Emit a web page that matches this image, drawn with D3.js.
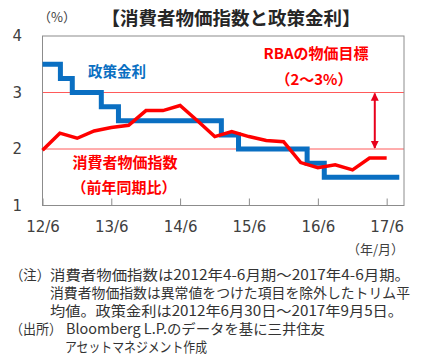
<!DOCTYPE html>
<meta charset="utf-8">
<head>
<style>
body { margin: 0; background: #fff; }
text { font-family: "Noto Sans CJK JP", "DejaVu Sans", sans-serif; }
.num { font-family: "DejaVu Sans", sans-serif; }
</style>
</head>
<body>
<script src="https://cdnjs.cloudflare.com/ajax/libs/d3/7.8.5/d3.min.js"></script>
<script>
// ---------------- data ----------------
var cpiDates = ["2012-06-30","2012-09-30","2012-12-31","2013-03-31","2013-06-30","2013-09-30","2013-12-31",
  "2014-03-31","2014-06-30","2014-09-30","2014-12-31","2015-03-31","2015-06-30","2015-09-30","2015-12-31",
  "2016-03-31","2016-06-30","2016-09-30","2016-12-31","2017-03-31","2017-06-30"];
var cpiValues = [1.98,2.28,2.19,2.32,2.38,2.42,2.68,2.68,2.77,2.50,2.22,2.31,2.22,2.15,2.13,1.76,1.67,1.72,1.63,1.84,1.84];

var rateDates = ["2012-06-30","2012-10-03","2012-12-05","2013-05-08","2013-08-07","2015-02-04","2015-05-06","2016-05-04","2016-08-03","2017-09-05"];
var rateValues = [3.5,3.25,3.0,2.75,2.5,2.25,2.0,1.75,1.5,1.5];

var xTickDates = ["2012-06-30","2013-06-30","2014-06-30","2015-06-30","2016-06-30","2017-06-30"];
var xTickLabels = ["12/6","13/6","14/6","15/6","16/6","17/6"];
var yTicks = [1,2,3,4];
var targetBand = [2,3];

var footnotes = [
  {x:10, y:280, w:40, t:"（注）"},
  {x:50, y:280, w:360, t:"消費者物価指数は2012年4-6月期～2017年4-6月期。"},
  {x:50, y:298, w:360, t:"消費者物価指数は異常値をつけた項目を除外したトリム平"},
  {x:50, y:316, w:353, t:"均値。政策金利は2012年6月30日～2017年9月5日。"},
  {x:10, y:334, w:52, t:"（出所）"},
  {x:66, y:334, w:259, t:"Bloomberg L.P.のデータを基に三井住友"},
  {x:65, y:352, w:142, t:"アセットマネジメント作成"}
];

// ---------------- svg ----------------
var W = 435, H = 362;
var svg = d3.select("body").append("svg").attr("width", W).attr("height", H);
var parse = d3.timeParse("%Y-%m-%d");

var x = d3.scaleTime()
  .domain([parse("2012-06-30"), parse("2017-09-30")])
  .range([42.5, 404]);
var y = d3.scaleLinear().domain([1, 4]).range([205.5, 36]);

var cpi = cpiDates.map(function(d, i) { return {date: parse(d), v: cpiValues[i]}; });
var rate = rateDates.map(function(d, i) { return {date: parse(d), v: rateValues[i]}; });

// target lines at 2% and 3%
svg.selectAll(".grid").data(targetBand).enter().append("line")
  .attr("x1", x.range()[0]).attr("x2", x.range()[1])
  .attr("y1", function(d) { return y(d); }).attr("y2", function(d) { return y(d); })
  .attr("stroke", "#ff3030").attr("stroke-width", 0.8);

// frame
svg.append("rect")
  .attr("x", x.range()[0]).attr("y", y(4))
  .attr("width", x.range()[1] - x.range()[0]).attr("height", y(1) - y(4))
  .attr("fill", "none").attr("stroke", "#8c8c8c").attr("stroke-width", 1);

// x axis
var xaxis = d3.axisBottom(x)
  .tickValues(xTickDates.map(parse))
  .tickSize(-7)
  .tickPadding(16)
  .tickFormat(function(d, i) { return xTickLabels[i]; });
var gx = svg.append("g").attr("transform", "translate(0," + y(1) + ")").call(xaxis);
gx.select(".domain").remove();
gx.selectAll("line").attr("stroke", "#8c8c8c");
gx.selectAll("text").attr("class", "num").style("font-size", "15px").attr("fill", "#404040");

// y axis
var yaxis = d3.axisLeft(y).tickValues(yTicks).tickSize(0).tickPadding(0).tickFormat(d3.format("d"));
var gy = svg.append("g").attr("transform", "translate(22,0)").call(yaxis);
gy.select(".domain").remove();
gy.selectAll("text").attr("class", "num").style("font-size", "15px").attr("fill", "#404040");

// policy rate (step)
var stepLine = d3.line().curve(d3.curveStepAfter)
  .x(function(d) { return x(d.date); }).y(function(d) { return y(d.v); });
svg.append("path").datum(rate)
  .attr("d", stepLine)
  .attr("fill", "none").attr("stroke", "#0a6fc2").attr("stroke-width", 5);

// CPI
var line = d3.line().x(function(d) { return x(d.date); }).y(function(d) { return y(d.v); });
svg.append("path").datum(cpi)
  .attr("d", line)
  .attr("fill", "none").attr("stroke", "#ff0000").attr("stroke-width", 3.5)
  .attr("stroke-linejoin", "miter");

// double arrow 2-3%
var defs = svg.append("defs");
["s", "e"].forEach(function(k) {
  defs.append("marker").attr("id", "ar" + k)
    .attr("viewBox", "0 0 10 10").attr("refX", 9).attr("refY", 5)
    .attr("markerWidth", 4).attr("markerHeight", 5)
    .attr("orient", k == "s" ? "auto-start-reverse" : "auto")
    .append("path").attr("d", "M0,0L10,5L0,10z").attr("fill", "#e8001c");
});
var ax = x(parse("2017-04-28"));
svg.append("line")
  .attr("x1", ax).attr("x2", ax).attr("y1", y(3) + 1).attr("y2", y(2) - 1)
  .attr("stroke", "#e8001c").attr("stroke-width", 2)
  .attr("marker-start", "url(#ars)").attr("marker-end", "url(#are)");

// labels
svg.append("text").attr("x", 38).attr("y", 22).style("font-size", "13px").attr("fill", "#404040").text("（%）");
svg.append("text").attr("x", 231).attr("y", 25).attr("text-anchor", "middle")
  .style("font-size", "18.5px").style("font-weight", "bold").attr("fill", "#262626")
  .text("【消費者物価指数と政策金利】");
svg.append("text").attr("x", 88).attr("y", 77).style("font-size", "14.5px").style("font-weight", "bold")
  .attr("fill", "#0a6fc2").text("政策金利");
svg.append("text").attr("x", 316).attr("y", 59).attr("text-anchor", "middle").style("font-size", "15px")
  .style("font-weight", "bold").attr("fill", "#ff0000").text("RBAの物価目標");
svg.append("text").attr("x", 314).attr("y", 85).attr("text-anchor", "middle").style("font-size", "15px")
  .style("font-weight", "bold").attr("fill", "#ff0000").text("（2～3%）");
svg.append("text").attr("x", 125).attr("y", 168).attr("text-anchor", "middle").style("font-size", "15px")
  .style("font-weight", "bold").attr("fill", "#ff0000").text("消費者物価指数");
svg.append("text").attr("x", 124).attr("y", 193).attr("text-anchor", "middle").style("font-size", "15px")
  .style("font-weight", "bold").attr("fill", "#ff0000").text("（前年同期比）");
svg.append("text").attr("x", 404).attr("y", 254).attr("text-anchor", "end").style("font-size", "13px")
  .attr("fill", "#404040").text("（年/月）");

svg.selectAll(".fn").data(footnotes).enter().append("text")
  .attr("class", "fn")
  .attr("x", function(d) { return d.x; }).attr("y", function(d) { return d.y; })
  .attr("textLength", function(d) { return d.w; })
  .attr("lengthAdjust", "spacingAndGlyphs")
  .style("font-size", "14px").attr("fill", "#333")
  .text(function(d) { return d.t; });
</script>
</body>
</html>
